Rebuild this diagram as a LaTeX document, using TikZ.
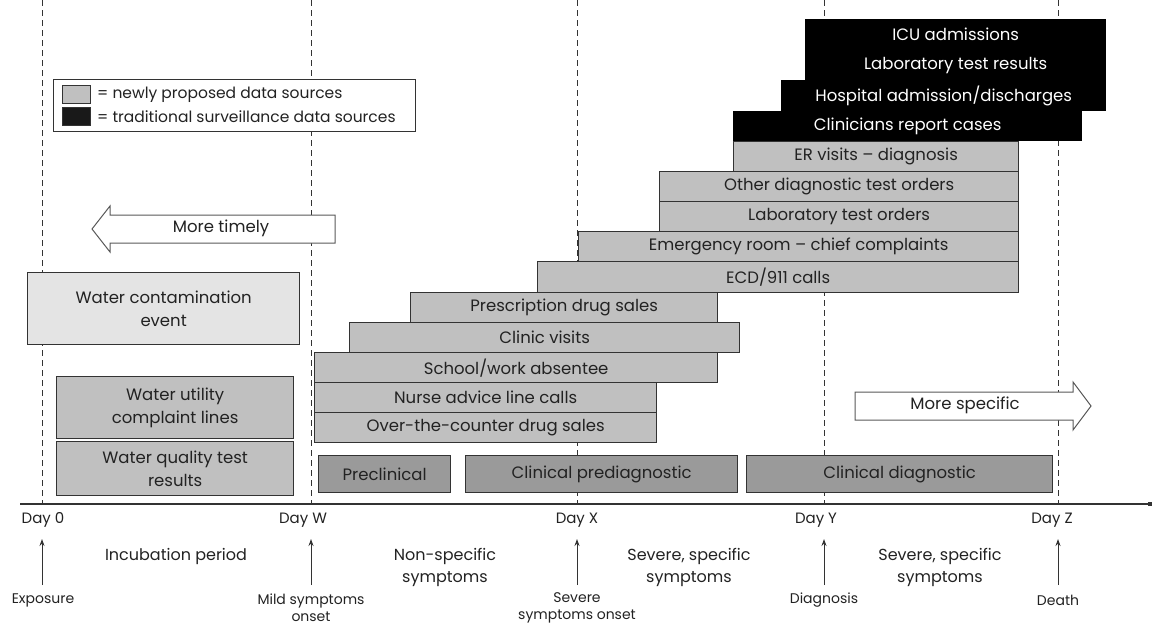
\documentclass[tikz,border=0pt]{standalone}
\usepackage{fontspec}
\setmainfont{Poppins}
\usetikzlibrary{arrows.meta}
\definecolor{lg}{HTML}{C0C0C0}
\definecolor{vlg}{HTML}{E4E4E4}
\definecolor{dg}{HTML}{9A9A9A}
\definecolor{bd}{HTML}{333333}
\definecolor{tx}{HTML}{222222}
\tikzset{
  base/.style={draw=bd, line width=1.3pt, inner sep=0pt, anchor=north west, align=center, text=tx, font=\fontsize{16.5}{23}\selectfont},
  gbox/.style={base, fill=lg},
  wbox/.style={base, fill=vlg},
  pbox/.style={base, fill=dg},
  bbox/.style={inner sep=0pt, anchor=north west, fill=black, text=white, font=\fontsize{16.5}{20}\selectfont},
  dayline/.style={dashed, dash pattern=on 6pt off 4pt, line width=0.9pt, draw=bd},
  lab/.style={text=tx, font=\fontsize{16}{22}\selectfont, align=center},
  dlab/.style={text=tx, font=\fontsize{15}{18}\selectfont, align=center},
  slab/.style={text=tx, font=\fontsize{14}{17}\selectfont, align=center},
  uparr/.style={draw=bd, line width=1pt, -{Stealth[length=7pt,width=5pt]}},
  fatarr/.style={draw=gray!70!black, line width=1pt, fill=white},
}
\begin{document}
\begin{tikzpicture}[x=1pt,y=-1pt]
\useasboundingbox (0,0) rectangle (1153,630);
% day lines
\foreach \x/\n in {42/d0, 311/dW, 577/dX, 824/dY, 1058/dZ}{
  \coordinate (\n top) at (\x,0);
  \coordinate (\n bot) at (\x,504);
  \draw[dayline] (\n top) -- (\n bot);
}
% axis
\coordinate (axL) at (20,504);
\coordinate (axR) at (1150,504);
\draw[draw=bd, line width=1.3pt] (axL) -- (axR);
\fill[bd] (1148,502) rectangle (1152,506);
% legend
\node[draw=bd, line width=1pt, fill=white, anchor=north west, minimum width=362pt, minimum height=52pt, inner sep=0pt] (legend) at (53,79) {};
\node[draw=bd, line width=1pt, fill=lg, anchor=north west, minimum width=28pt, minimum height=18pt, inner sep=0pt] (sw1) at (62,85) {};
\node[draw=bd, line width=1pt, fill=black!90, anchor=north west, minimum width=28pt, minimum height=18pt, inner sep=0pt] (sw2) at (62,107) {};
\node[anchor=west, text=tx, font=\fontsize{15.5}{18}\selectfont, inner sep=0pt] (l1) at (97,94.5) {= newly proposed data sources};
\node[anchor=west, text=tx, font=\fontsize{15.5}{18}\selectfont, inner sep=0pt] (l2) at (97,116.5) {= traditional surveillance data sources};
% black boxes
\node[bbox, minimum width=301pt, minimum height=31pt] (icu) at (805,19) {ICU admissions};
\node[bbox, minimum width=301pt, minimum height=31pt] (labres) at (805,49.5) {Laboratory test results};
\node[bbox, minimum width=325pt, minimum height=31pt] (hosp) at (781,80) {Hospital admission/discharges};
\node[bbox, minimum width=349pt, minimum height=30pt] (clin) at (733,111) {Clinicians report cases};
% gray boxes
\node[gbox, minimum width=285pt, minimum height=30pt] (er) at (733,141) {ER visits -- diagnosis};
\node[gbox, minimum width=359pt, minimum height=30pt] (other) at (659,171) {Other diagnostic test orders};
\node[gbox, minimum width=359pt, minimum height=30pt] (labord) at (659,201) {Laboratory test orders};
\node[gbox, minimum width=440pt, minimum height=30pt] (emerg) at (578,231) {Emergency room -- chief complaints};
\node[gbox, minimum width=481pt, minimum height=31pt] (ecd) at (537,261) {ECD/911 calls};
\node[gbox, minimum width=307pt, minimum height=30pt] (presc) at (410,292) {Prescription drug sales};
\node[gbox, minimum width=390pt, minimum height=30pt] (clinic) at (349,322) {Clinic visits};
\node[gbox, minimum width=403pt, minimum height=30pt] (school) at (314,352) {School/work absentee};
\node[gbox, minimum width=342pt, minimum height=30pt] (nurse) at (314,382) {Nurse advice line calls};
\node[gbox, minimum width=342pt, minimum height=30pt] (otc) at (314,412) {Over-the-counter drug sales};
% water boxes
\node[wbox, minimum width=272pt, minimum height=72pt] (water) at (27,272) {Water contamination\\event};
\node[gbox, minimum width=237pt, minimum height=62pt] (util) at (56,376) {Water utility\\complaint lines};
\node[gbox, minimum width=237pt, minimum height=54pt] (qual) at (56,441) {Water quality test\\results};
% phases
\node[pbox, minimum width=132pt, minimum height=37pt] (precl) at (318,455) {Preclinical};
\node[pbox, minimum width=272pt, minimum height=37pt] (clpre) at (465,455) {Clinical prediagnostic};
\node[pbox, minimum width=306pt, minimum height=37pt] (cldiag) at (746,455) {Clinical diagnostic};
% fat arrows
\draw[fatarr] (335,215) -- (110,215) -- (110,206) -- (92,229) -- (110,252) -- (110,243) -- (335,243) -- cycle;
\node[lab, font=\fontsize{16.5}{20}\selectfont] (timely) at (221,228) {More timely};
\draw[fatarr] (855,392) -- (1073,392) -- (1073,382) -- (1091,406) -- (1073,430) -- (1073,420) -- (855,420) -- cycle;
\node[lab, font=\fontsize{16.5}{20}\selectfont] (specific) at (965,405) {More specific};
% day labels
\node[dlab] (day0) at (43,520) {Day 0};
\node[dlab] (dayW) at (303,520) {Day W};
\node[dlab] (dayX) at (577,520) {Day X};
\node[dlab] (dayY) at (816,520) {Day Y};
\node[dlab] (dayZ) at (1052,520) {Day Z};
% period labels
\node[lab] (incub) at (176,556) {Incubation period};
\node[lab] (nonsp) at (445,567) {Non-specific\\symptoms};
\node[lab] (sev1) at (689,567) {Severe, specific\\symptoms};
\node[lab] (sev2) at (940,567) {Severe, specific\\symptoms};
% event labels
\node[slab] (expo) at (43,600) {Exposure};
\node[slab] (mild) at (311,608) {Mild symptoms\\onset};
\node[slab] (sevon) at (577,608) {Severe\\symptoms onset};
\node[slab] (diag) at (824,600) {Diagnosis};
\node[slab] (death) at (1058,600) {Death};
% up arrows
\foreach \x/\n in {42/a0, 311/aW, 577/aX, 824/aY, 1058/aZ}{
  \coordinate (\n b) at (\x,585);
  \coordinate (\n t) at (\x,539);
  \draw[uparr] (\n b) -- (\n t);
}
\end{tikzpicture}
\end{document}
